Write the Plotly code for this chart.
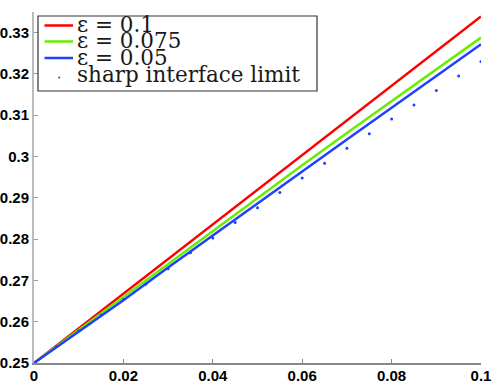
import plotly.graph_objects as go

# ---- data ----
x_line = [0, 0.005, 0.01, 0.015, 0.02, 0.03, 0.04, 0.05, 0.06, 0.07, 0.08, 0.09, 0.1]
eps_01 = [0.25, 0.2542, 0.2584, 0.2626, 0.2668, 0.2752, 0.2836, 0.2919, 0.3002, 0.3086, 0.3170, 0.3254, 0.3339]
eps_0075 = [0.25, 0.2541, 0.2580, 0.2620, 0.2660, 0.2740, 0.2819, 0.2899, 0.2979, 0.3057, 0.3134, 0.3211, 0.3288]
eps_005 = [0.25, 0.2538, 0.2574, 0.2612, 0.2652, 0.2731, 0.2809, 0.2887, 0.2964, 0.3041, 0.3118, 0.3195, 0.3272]

x_sharp = [0, 0.005, 0.01, 0.015, 0.02, 0.025, 0.03, 0.035, 0.04, 0.045, 0.05,
           0.055, 0.06, 0.065, 0.07, 0.075, 0.08, 0.085, 0.09, 0.095, 0.1]
sharp = [0.25, 0.2540, 0.2578, 0.2616, 0.2654, 0.2691, 0.2728, 0.2767, 0.2803, 0.2840, 0.2876,
         0.2913, 0.2948, 0.2984, 0.3020, 0.3055, 0.3091, 0.3125, 0.3160, 0.3195, 0.3230]

x_ticks = [0, 0.02, 0.04, 0.06, 0.08, 0.1]
x_ticklabels = ["0", "0.02", "0.04", "0.06", "0.08", "0.1"]
y_ticks = [0.25, 0.26, 0.27, 0.28, 0.29, 0.3, 0.31, 0.32, 0.33]
y_ticklabels = ["0.25", "0.26", "0.27", "0.28", "0.29", "0.3", "0.31", "0.32", "0.33"]

names = ["ε = 0.1", "ε = 0.075", "ε = 0.05", "sharp interface limit"]
colors = ["#ff0000", "#66ee00", "#2040ff"]
dot_color = "#2040ff"

W, H = 496, 382
ML, MR, MT, MB = 34, 15, 12, 19
PW, PH = W - ML - MR, H - MT - MB


def px(x):  # pixel -> paper x
    return (x - ML) / PW


def py(y):  # pixel -> paper y
    return (H - MB - y) / PH


fig = go.Figure()
for ys, nm, c in zip([eps_01, eps_0075, eps_005], names[:3], colors):
    fig.add_trace(go.Scatter(x=x_line, y=ys, mode="lines", name=nm,
                             line=dict(color=c, width=2.5)))
fig.add_trace(go.Scatter(x=x_sharp, y=sharp, mode="markers", name=names[3],
                         marker=dict(color=dot_color, size=3, symbol="circle")))

# ---- custom legend (box, samples, labels) ----
shapes = [dict(type="rect", xref="paper", yref="paper",
               x0=px(38), x1=px(317), y0=py(91), y1=py(16),
               line=dict(color="#333333", width=1.2), fillcolor="white", layer="above")]
row_y = [25.5, 41.5, 58, 77.5]
for c, ry in zip(colors, row_y[:3]):
    shapes.append(dict(type="line", xref="paper", yref="paper",
                       x0=px(44.5), x1=px(73), y0=py(ry), y1=py(ry),
                       line=dict(color=c, width=2.5), layer="above"))
shapes.append(dict(type="circle", xref="paper", yref="paper",
                   x0=px(58.2), x1=px(60.2), y0=py(78.5), y1=py(76.5),
                   line=dict(color=dot_color, width=0), fillcolor=dot_color, layer="above"))
text_y = [24.5, 41, 57.5, 74.5]
annotations = []
for nm, ty in zip(names, text_y):
    annotations.append(dict(text=nm, xref="paper", yref="paper", x=px(75), y=py(ty),
                            xanchor="left", yanchor="middle", showarrow=False,
                            font=dict(family="DejaVu Serif, serif", size=21.5, color="#1a1a1a")))

tickfont = dict(family="Liberation Sans, Arial, sans-serif", size=15, color="black", weight="bold")
fig.update_layout(
    width=W, height=H,
    margin=dict(l=ML, r=MR, t=MT, b=MB),
    paper_bgcolor="white", plot_bgcolor="white",
    showlegend=False,
    shapes=shapes, annotations=annotations,
)
fig.update_xaxes(range=[0, 0.1], tickvals=x_ticks, ticktext=x_ticklabels, automargin=False,
                 showgrid=False, zeroline=False, showline=True, linecolor="#888888", linewidth=1.5,
                 ticks="inside", ticklen=4, tickcolor="#888888", tickfont=tickfont,
                 ticklabelstandoff=-2)
fig.update_yaxes(range=[0.25, 0.335], tickvals=y_ticks, ticktext=y_ticklabels, automargin=False,
                 showgrid=False, zeroline=False, showline=True, linecolor="#bbbbbb", linewidth=2,
                 ticks="inside", ticklen=4, tickcolor="#999999", tickfont=tickfont)

fig.write_html("out.html", config={"displayModeBar": False},
               post_script="document.body.style.margin='0';document.body.style.overflow='hidden';")
